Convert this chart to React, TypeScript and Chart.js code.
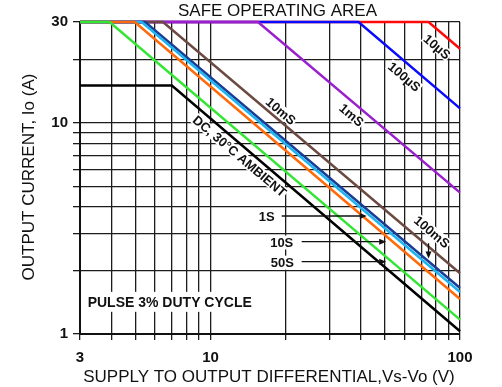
import React, { useEffect, useRef } from 'react';
import { Chart, registerables } from 'chart.js';

Chart.register(...registerables);

const FONT = '"Liberation Sans", Arial, Helvetica, sans-serif';

// Axis ticks
const xTicks = [3, 4, 5, 6, 7, 8, 9, 10, 20, 30, 40, 50, 60, 70, 80, 90, 100];
const yTicks = [1, 2, 3, 4, 5, 6, 7, 8, 9, 10, 20, 30];
const xLabelValues = [3, 10, 100];
const yLabelValues = [1, 10, 30];

// Series (V = supply-to-output differential, I = output current)
const seriesNames = ['DC', '50S', '10S', '1S', '100mS', '10mS', '1mS', '100µS', '10µS'];
const seriesColors = ['#000000', '#33e633', '#ff6a0a', '#1eb4f0', '#1a3c94', '#6b4a42', '#9a1fcf', '#0a0aff', '#ff0a0a'];
const vDC = [3, 7, 100];
const iDC = [15, 15, 1.03];
const v50S = [3, 3.94, 100];
const i50S = [30, 30, 1.17];
const v10S = [3, 4.97, 100];
const i10S = [30, 30, 1.465];
const v1S = [3, 5.3, 100];
const i1S = [30, 30, 1.58];
const v100mS = [3, 5.47, 100];
const i100mS = [30, 30, 1.65];
const v10mS = [3, 6.45, 100];
const i10mS = [30, 30, 1.94];
const v1mS = [3, 15.5, 100];
const i1mS = [30, 30, 4.67];
const v100uS = [3, 39.2, 100];
const i100uS = [30, 30, 11.7];
const v10uS = [3, 74.8, 100];
const i10uS = [30, 30, 22.4];
const seriesV = [vDC, v50S, v10S, v1S, v100mS, v10mS, v1mS, v100uS, v10uS];
const seriesI = [iDC, i50S, i10S, i1S, i100mS, i10mS, i1mS, i100uS, i10uS];

// Rotated labels along the curves
const rotTexts = ['10µS', '100µS', '1mS', '10mS', 'DC, 30°C AMBIENT', '100mS'];
const rotV = [80.9, 59.8, 36.8, 19.15, 13.1, 77.2];
const rotI = [22.93, 16.53, 10.89, 11.37, 6.96, 3.05];

// Horizontal arrow labels
const arrTexts = ['1S', '10S', '50S'];
const arrTextV = [16.8, 19.3, 19.4];
const arrTextI = [3.6, 2.71, 2.176];
const arrFromV = [19.3, 23.2, 23.2];
const arrToV = [42.3, 50.6, 50.6];
const arrI = [3.62, 2.735, 2.2];

// 100mS vertical arrow
const vArrV = [74.8];
const vArrFromI = [2.69];
const vArrToI = [2.28];

// Note
const noteText = 'PULSE 3% DUTY CYCLE';
const noteV = 3.22;
const noteI = 1.42;

const TITLE = 'SAFE OPERATING AREA';
const X_TITLE = 'SUPPLY TO OUTPUT DIFFERENTIAL,Vs-Vo (V)';
const Y_TITLE = 'OUTPUT CURRENT, Io (A)';

function lineAngle(chart: any) {
  const xs = chart.scales.x;
  const ys = chart.scales.y;
  const dx = xs.getPixelForValue(100) - xs.getPixelForValue(10);
  const dy = ys.getPixelForValue(1) - ys.getPixelForValue(10);
  return Math.atan2(dy, dx);
}

const annotPlugin = {
  id: 'annot',
  beforeDatasetsDraw(chart: any) {
    const ctx = chart.ctx;
    const xs = chart.scales.x;
    const ys = chart.scales.y;
    const ang = lineAngle(chart);
    ctx.save();
    ctx.fillStyle = '#ffffff';
    ctx.font = `bold 13px ${FONT}`;
    rotTexts.forEach((t, i) => {
      const px = xs.getPixelForValue(rotV[i]);
      const py = ys.getPixelForValue(rotI[i]);
      const w = ctx.measureText(t).width;
      ctx.save();
      ctx.translate(px, py);
      ctx.rotate(ang);
      ctx.fillRect(-w / 2 - 1, -6, w + 2, 12);
      ctx.restore();
    });
    arrTexts.forEach((t, i) => {
      const px = xs.getPixelForValue(arrTextV[i]);
      const py = ys.getPixelForValue(arrTextI[i]);
      const w = ctx.measureText(t).width;
      ctx.fillRect(px - w / 2 - 2, py - 7, w + 4, 14);
    });
    ctx.font = `bold 14px ${FONT}`;
    {
      const px = xs.getPixelForValue(noteV);
      const py = ys.getPixelForValue(noteI);
      const w = ctx.measureText(noteText).width;
      ctx.fillRect(px - 3, py - 10, w + 6, 20);
    }
    ctx.restore();
  },
  afterDatasetsDraw(chart: any) {
    const ctx = chart.ctx;
    const xs = chart.scales.x;
    const ys = chart.scales.y;
    const ang = lineAngle(chart);
    ctx.save();
    ctx.fillStyle = '#111';
    ctx.strokeStyle = '#111';
    ctx.textAlign = 'center';
    ctx.textBaseline = 'middle';
    ctx.font = `bold 13px ${FONT}`;
    rotTexts.forEach((t, i) => {
      const px = xs.getPixelForValue(rotV[i]);
      const py = ys.getPixelForValue(rotI[i]);
      ctx.save();
      ctx.translate(px, py);
      ctx.rotate(ang);
      ctx.fillText(t, 0, 1);
      ctx.restore();
    });
    arrTexts.forEach((t, i) => {
      const px = xs.getPixelForValue(arrTextV[i]);
      const py = ys.getPixelForValue(arrTextI[i]);
      ctx.fillText(t, px, py + 1);
      const x0 = xs.getPixelForValue(arrFromV[i]);
      const x1 = xs.getPixelForValue(arrToV[i]);
      const ay = ys.getPixelForValue(arrI[i]);
      ctx.lineWidth = 1.3;
      ctx.beginPath();
      ctx.moveTo(x0, ay);
      ctx.lineTo(x1 - 5, ay);
      ctx.stroke();
      ctx.beginPath();
      ctx.moveTo(x1, ay);
      ctx.lineTo(x1 - 7, ay - 3);
      ctx.lineTo(x1 - 7, ay + 3);
      ctx.closePath();
      ctx.fill();
    });
    vArrV.forEach((v, i) => {
      const ax = xs.getPixelForValue(v);
      const y0 = ys.getPixelForValue(vArrFromI[i]);
      const y1 = ys.getPixelForValue(vArrToI[i]);
      ctx.lineWidth = 1.3;
      ctx.beginPath();
      ctx.moveTo(ax, y0);
      ctx.lineTo(ax, y1 - 5);
      ctx.stroke();
      ctx.beginPath();
      ctx.moveTo(ax, y1);
      ctx.lineTo(ax - 3, y1 - 7);
      ctx.lineTo(ax + 3, y1 - 7);
      ctx.closePath();
      ctx.fill();
    });
    ctx.font = `bold 14px ${FONT}`;
    ctx.textAlign = 'left';
    ctx.fillText(noteText, xs.getPixelForValue(noteV), ys.getPixelForValue(noteI) + 1);
    ctx.restore();
  },
  afterDraw(chart: any) {
    const ctx = chart.ctx;
    ctx.save();
    ctx.fillStyle = '#111';
    ctx.textAlign = 'center';
    ctx.textBaseline = 'middle';
    ctx.font = `17px ${FONT}`;
    ctx.fillText(TITLE, 277.5, 11);
    ctx.fillText(X_TITLE, 269, 377);
    ctx.save();
    ctx.translate(29, 177);
    ctx.rotate(-Math.PI / 2);
    ctx.fillText(Y_TITLE, 0, 0);
    ctx.restore();
    ctx.restore();
  },
};

export default function App() {
  const ref = useRef<HTMLCanvasElement>(null);
  useEffect(() => {
    document.body.style.margin = '0';
    const datasets = seriesNames.map((name, k) => ({
      label: name,
      data: seriesV[k].map((v, j) => ({ x: v, y: seriesI[k][j] })),
      borderColor: seriesColors[k],
      backgroundColor: seriesColors[k],
      borderWidth: 2.5,
      pointRadius: 0,
      fill: false,
      tension: 0,
      clip: false as any,
    }));
    const chart = new Chart(ref.current as HTMLCanvasElement, {
      type: 'line',
      data: { datasets },
      options: {
        animation: false,
        responsive: true,
        maintainAspectRatio: false,
        events: [],
        layout: { padding: { top: 22, right: 42, left: 0, bottom: 0 } },
        plugins: { legend: { display: false }, tooltip: { enabled: false }, title: { display: false } },
        scales: {
          x: {
            type: 'logarithmic',
            min: 3,
            max: 100,
            afterBuildTicks: (s: any) => {
              s.ticks = xTicks.map((v) => ({ value: v }));
            },
            afterFit: (s: any) => {
              s.height = 53;
            },
            ticks: {
              autoSkip: false,
              maxRotation: 0,
              minRotation: 0,
              padding: 9,
              color: '#111',
              font: { family: FONT, size: 15, weight: 'bold' },
              callback: (v: any) => (xLabelValues.includes(Number(v)) ? String(v) : ''),
            },
            grid: { color: '#1c1c1c', lineWidth: 1.3, tickLength: 6, drawTicks: true },
            border: { display: true, color: '#111', width: 2 },
          },
          y: {
            type: 'logarithmic',
            min: 1,
            max: 30,
            afterBuildTicks: (s: any) => {
              s.ticks = yTicks.map((v) => ({ value: v }));
            },
            afterFit: (s: any) => {
              s.width = 80;
            },
            ticks: {
              autoSkip: false,
              padding: 5,
              color: '#111',
              font: { family: FONT, size: 15, weight: 'bold' },
              callback: (v: any) => (yLabelValues.includes(Number(v)) ? String(v) : ''),
            },
            grid: { color: '#1c1c1c', lineWidth: 1.3, tickLength: 7, drawTicks: true },
            border: { display: true, color: '#111', width: 2 },
          },
        },
      } as any,
      plugins: [annotPlugin],
    });
    return () => chart.destroy();
  }, []);
  return (
    <div style={{ width: 502, height: 387, position: 'relative', background: '#fff' }}>
      <canvas ref={ref} />
    </div>
  );
}
